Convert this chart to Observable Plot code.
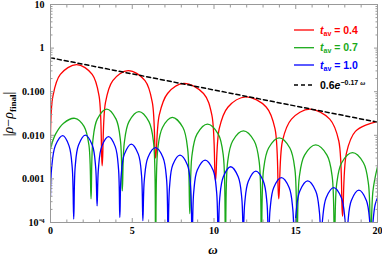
<!DOCTYPE html>
<html><head><meta charset="utf-8">
<script src="https://cdn.jsdelivr.net/npm/d3@7"></script>
<script src="https://cdn.jsdelivr.net/npm/@observablehq/plot@0.6"></script>
<style>body{margin:0;background:#fff} svg{display:block}</style>
</head><body><div id="chart"></div>
<script>
// ω values and |ρ-ρfinal| values
const redW = [0, 0.15, 0.6, 1.6, 2.55, 2.97, 3.16,
 3.36, 3.81, 4.75, 5.78, 6.23, 6.43,
 6.65, 7.16, 8.15, 9.36, 9.87, 10.09,
 10.32, 10.86, 11.95, 13.19, 13.73, 13.96,
 14.19, 14.74, 15.85, 17.08, 17.63, 17.86,
 18.1, 18.65, 19.85, 20];
const redV = [0.009, 0.08, 0.25, 0.42, 0.25, 0.08, 0.002,
 0.056, 0.18, 0.305, 0.18, 0.056, 0.003,
 0.029, 0.091, 0.155, 0.091, 0.029, 0.0009,
 0.0142, 0.0447, 0.076, 0.0447, 0.0142, 0.00035,
 0.0075, 0.0235, 0.040, 0.0235, 0.0075, 0.00014,
 0.0039, 0.0123, 0.020, 0.0199];

const greenW = [0, 0.3, 0.8, 1.5, 2.05, 2.35, 2.48,
 2.59, 2.86, 3.44, 4.01, 4.28, 4.39,
 4.51, 4.8, 5.41, 6.02, 6.31, 6.43,
 6.56, 6.85, 7.45, 8.1, 8.39, 8.52,
 8.65, 8.96, 9.6, 10.26, 10.57, 10.7,
 10.83, 11.14, 11.8, 12.46, 12.77, 12.9,
 13.03, 13.34, 13.99, 14.64, 14.95, 15.08,
 15.22, 15.54, 16.22, 16.91, 17.23, 17.37,
 17.5, 17.81, 18.47, 19.14, 19.45, 19.58,
 19.72, 20];
const greenV = [0.005, 0.0105, 0.019, 0.0245, 0.016, 0.006, 0.00035,
 0.0075, 0.0235, 0.040, 0.0235, 0.0075, 0.00053,
 0.0065, 0.0206, 0.035, 0.0206, 0.0065, 0.00003,
 0.0048, 0.0151, 0.0257, 0.0151, 0.0048, 0.00016,
 0.0034, 0.0106, 0.018, 0.0106, 0.0034, 0.00003,
 0.00236, 0.0074, 0.0126, 0.0074, 0.00236, 0.00003,
 0.00163, 0.0051, 0.0087, 0.0051, 0.00163, 0.00003,
 0.00112, 0.0035, 0.006, 0.0035, 0.00112, 0.00003,
 0.00075, 0.00235, 0.004, 0.00235, 0.00075, 0.00003,
 0.00052, 0.0019];

const blueW = [0, 0.07, 0.3, 0.75, 1.13, 1.33, 1.42,
 1.51, 1.71, 2.13, 2.56, 2.76, 2.85,
 2.93, 3.13, 3.55, 3.96, 4.16, 4.24,
 4.32, 4.52, 4.94, 5.37, 5.57, 5.65,
 5.74, 5.96, 6.42, 6.88, 7.1, 7.19,
 7.28, 7.48, 7.92, 8.37, 8.57, 8.66,
 8.76, 8.98, 9.46, 9.94, 10.16, 10.26,
 10.35, 10.57, 11.02, 11.48, 11.7, 11.79,
 11.88, 12.1, 12.56, 13.02, 13.24, 13.33,
 13.43, 13.65, 14.12, 14.6, 14.82, 14.92,
 15.02, 15.25, 15.73, 16.22, 16.45, 16.55,
 16.64, 16.86, 17.32, 17.79, 18.01, 18.1,
 18.19, 18.4, 18.86, 19.32, 19.53, 19.62,
 19.71, 19.85, 20];
const blueV = [0.0004, 0.0018, 0.0058, 0.0098, 0.0058, 0.0018, 0.00012,
 0.0019, 0.0059, 0.0101, 0.0059, 0.0019, 0.00024,
 0.0017, 0.0055, 0.0093, 0.0055, 0.0017, 0.00013,
 0.00118, 0.0037, 0.0063, 0.0037, 0.00118, 0.00011,
 0.00097, 0.0031, 0.0052, 0.0031, 0.00097, 0.00003,
 0.00065, 0.0021, 0.0035, 0.0021, 0.00065, 0.00003,
 0.0005, 0.0016, 0.0027, 0.0016, 0.0005, 0.00003,
 0.00036, 0.00112, 0.0019, 0.00112, 0.00036, 0.00005,
 0.00028, 0.00088, 0.0015, 0.00088, 0.00028, 0.00003,
 0.0002, 0.00063, 0.00107, 0.00063, 0.0002, 0.00003,
 0.00017, 0.00053, 0.0009, 0.00053, 0.00017, 0.00003,
 0.000118, 0.00037, 0.00063, 0.00037, 0.000118, 0.00003,
 0.0001, 0.00032, 0.00055, 0.00032, 0.0001, 0.00003,
 0.00009, 0.00025, 0.00037];

// fit line 0.6 e^{-0.17 ω}
const fitW = [0, 20];
const fitV = [0.6, 0.020];

const legendLabels = ["0.4", "0.7", "1.0"];
const colors = ["#ff0000", "#1aaa1a", "#0000ff"];

const xMajor = [0, 5, 10, 15, 20];
const xMinor = [1,2,3,4,6,7,8,9,11,12,13,14,16,17,18,19];
const yMajor = [1e-4, 1e-3, 1e-2, 1e-1, 1, 10];
const yLabels = ["10\u207B\u2074", "0.001", "0.010", "0.100", "1", "10"];
const yMinor = [1e-4, 1e-3, 1e-2, 1e-1, 1].flatMap(d => [2,3,4,5,6,7,8,9].map(m => +(d*m).toPrecision(3)));

const toRows = (W, V) => W.map((w, i) => ({w, v: V[i]}));
const series = [toRows(redW, redV), toRows(greenW, greenV), toRows(blueW, blueV)];
const fit = toRows(fitW, fitV);

const frameColor = "#999";
const tickFont = {fontFamily: "Liberation Serif", fontWeight: "bold", fontSize: 10, fill: "black"};

const chart = Plot.plot({
  width: 382, height: 258,
  marginLeft: 50, marginRight: 5, marginTop: 4, marginBottom: 36,
  x: {domain: [0, 20]},
  y: {type: "log", domain: [1e-4, 10]},
  style: {background: "white", color: "black"},
  marks: [
    ...series.map((s, i) => Plot.line(s, {x: "w", y: "v", stroke: colors[i], strokeWidth: 1.3, curve: "catmull-rom", clip: true})),
    Plot.line(fit, {x: "w", y: "v", stroke: "black", strokeWidth: 1.5, strokeDasharray: "4,3", clip: true}),
    Plot.frame({stroke: frameColor, strokeWidth: 1}),
    Plot.axisX(xMajor, {anchor: "bottom", tickSize: -4, stroke: frameColor, fill: "none", label: null}),
    Plot.axisX(xMinor, {anchor: "bottom", tickSize: -2.5, stroke: frameColor, fill: "none", label: null}),
    Plot.axisX(xMajor, {anchor: "top", tickSize: -4, stroke: frameColor, fill: "none", label: null}),
    Plot.axisX(xMinor, {anchor: "top", tickSize: -2.5, stroke: frameColor, fill: "none", label: null}),
    Plot.axisX(xMajor, {anchor: "bottom", tickSize: 0, tickPadding: 4, ...tickFont, label: null}),
    Plot.axisY(yMajor, {anchor: "left", tickSize: -4, stroke: frameColor, fill: "none", label: null}),
    Plot.axisY(yMinor, {anchor: "left", tickSize: -2.5, stroke: frameColor, fill: "none", label: null}),
    Plot.axisY(yMajor, {anchor: "right", tickSize: -4, stroke: frameColor, fill: "none", label: null}),
    Plot.axisY(yMinor, {anchor: "right", tickSize: -2.5, stroke: frameColor, fill: "none", label: null}),
    Plot.axisY(yMajor, {anchor: "left", tickSize: 0, tickPadding: 6, ...tickFont, label: null,
      tickFormat: d => yLabels[yMajor.indexOf(d)]})
  ]
});
document.getElementById("chart").appendChild(chart);

const svg = d3.select(chart);
svg.append("text").attr("x", 213).attr("y", 254).attr("text-anchor", "middle")
  .attr("font-family", "Liberation Serif").attr("font-style", "italic").attr("font-weight", "bold").attr("font-size", 13)
  .text("ω");
const yl = svg.append("text").attr("transform", "translate(13,114) rotate(-90)").attr("text-anchor", "middle")
  .attr("font-family", "Liberation Serif").attr("font-size", 14);
yl.append("tspan").text("|");
yl.append("tspan").attr("font-style", "italic").text("ρ");
yl.append("tspan").text("\u2212");
yl.append("tspan").attr("font-style", "italic").text("ρ");
yl.append("tspan").attr("font-size", 9).attr("font-weight", "bold").attr("dy", 3).text("final");
yl.append("tspan").attr("dy", -3).text("|");

// legend
const lg = svg.append("g").attr("font-family", "Liberation Sans").attr("font-weight", "bold")
  .attr("font-size", 10.5).attr("text-anchor", "start");
const legY = [30, 47.7, 65];
legendLabels.forEach((lab, i) => {
  lg.append("line").attr("x1", 294).attr("x2", 314).attr("y1", legY[i]).attr("y2", legY[i])
    .attr("stroke", colors[i]).attr("stroke-width", 1.3);
  const t = lg.append("text").attr("x", 320).attr("y", legY[i] + 3.5).attr("fill", colors[i]);
  t.append("tspan").attr("font-style", "italic").text("t");
  t.append("tspan").attr("font-size", 7).attr("dy", 2).text("av");
  t.append("tspan").attr("dy", -2).text(" = " + lab);
});
lg.append("line").attr("x1", 294).attr("x2", 314).attr("y1", 85).attr("y2", 85)
  .attr("stroke", "black").attr("stroke-width", 1.5).attr("stroke-dasharray", "4,3");
const te = lg.append("text").attr("x", 320).attr("y", 88.5).attr("fill", "black");
te.append("tspan").text("0.6");
te.append("tspan").attr("font-style", "italic").text("e");
te.append("tspan").attr("font-size", 7).attr("dy", -4).text("\u22120.17 ");
te.append("tspan").attr("font-size", 7).attr("font-style", "italic").attr("font-family", "Liberation Serif").text("ω");
</script>
</body></html>
